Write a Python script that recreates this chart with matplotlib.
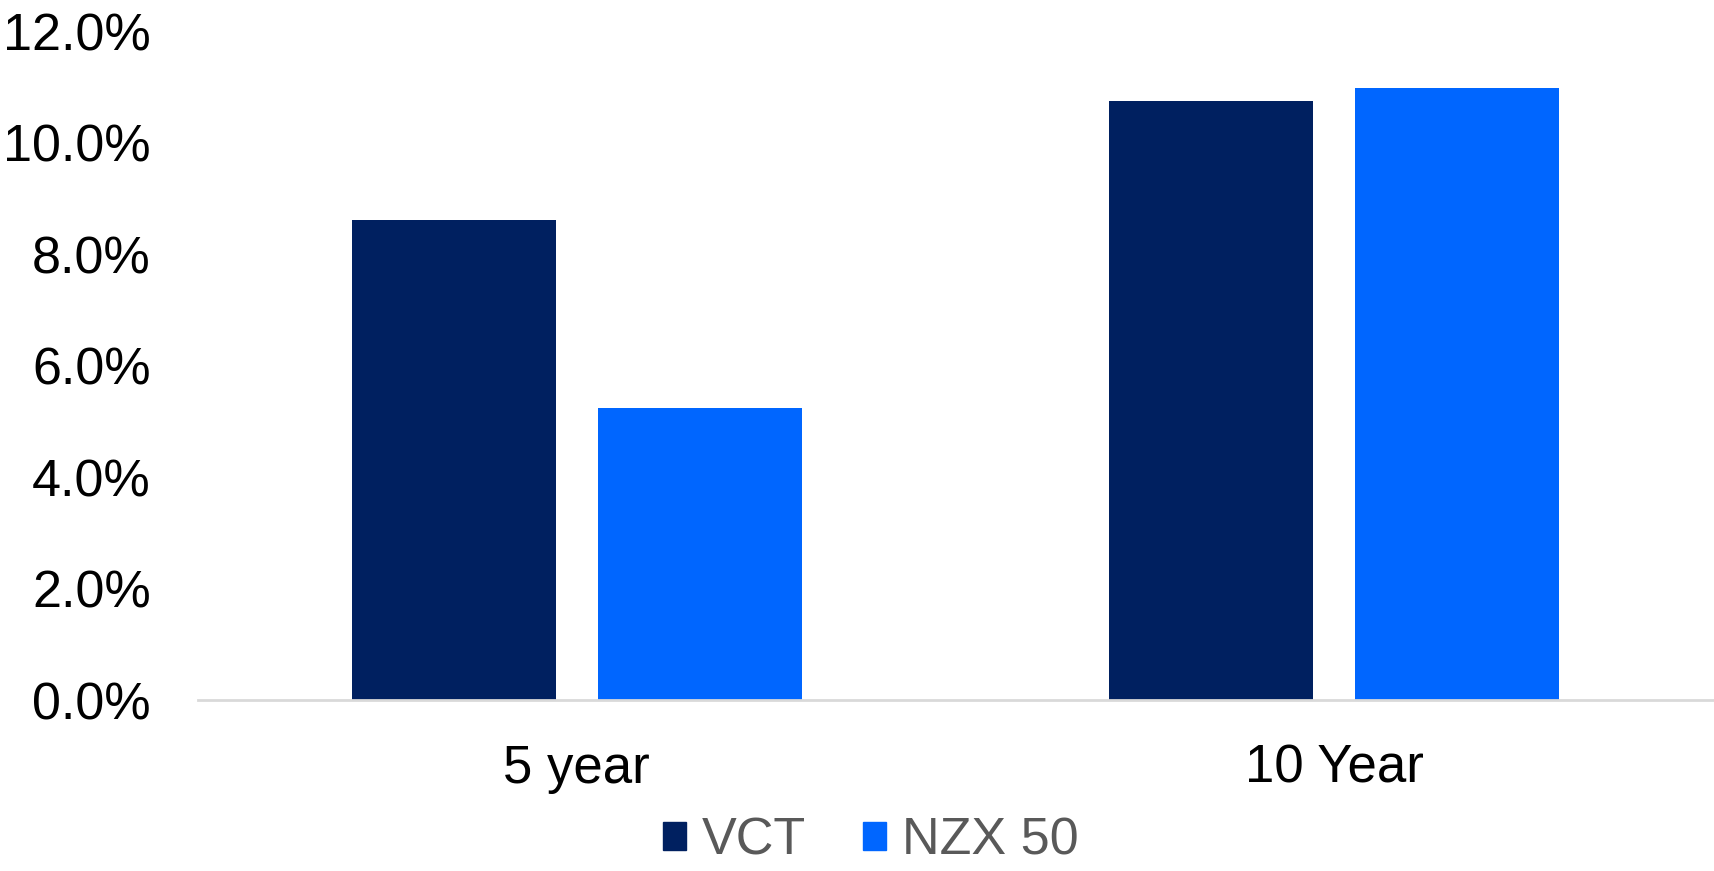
import matplotlib
matplotlib.use("Agg")
import matplotlib.pyplot as plt
from matplotlib.patches import Patch
import numpy as np

categories = ["5 year", "10 Year"]
series_names = ["VCT", "NZX 50"]
vct = [8.61, 10.74]
nzx = [5.24, 10.97]
y_ticks = [0, 2, 4, 6, 8, 10, 12]
colors = ["#002060", "#0066FF"]

plt.rcParams["font.family"] = ["Liberation Sans", "DejaVu Sans"]

W, H = 1714, 871
fig = plt.figure(figsize=(W / 100, H / 100), dpi=100)
ax = fig.add_axes([198 / W, 171 / H, (1713 - 198) / W, (700 - 31) / H])

x = np.arange(len(categories))
width = 0.269
offset = 0.1624
ax.bar(x - offset, vct, width, color=colors[0], label=series_names[0])
ax.bar(x + offset, nzx, width, color=colors[1], label=series_names[1])

ax.set_xlim(-0.5, 1.5)
ax.set_ylim(0, 12)
ax.set_yticks(y_ticks)
ax.set_yticklabels([f"{v:.1f}%" for v in y_ticks])
ax.set_xticks(x)
ax.set_xticklabels(categories)

for s in ["top", "right", "left"]:
    ax.spines[s].set_visible(False)
ax.spines["bottom"].set_color("#D9D9D9")
ax.spines["bottom"].set_linewidth(2)

ax.tick_params(axis="y", length=0, pad=34, labelsize=37.5, colors="black")
ax.tick_params(axis="x", length=0, pad=31.5, labelsize=38, colors="black")

handles = [Patch(color=colors[0]), Patch(color=colors[1])]
leg = fig.legend(handles, series_names, loc="center", bbox_to_anchor=(0.508, 0.034),
                 ncol=2, frameon=False, fontsize=37.5, handlelength=0.44,
                 handleheight=0.44, handletextpad=0.3, columnspacing=1.1,
                 borderpad=0, borderaxespad=0)
for t in leg.get_texts():
    t.set_color("#595959")

fig.savefig("out.png", dpi=100)
